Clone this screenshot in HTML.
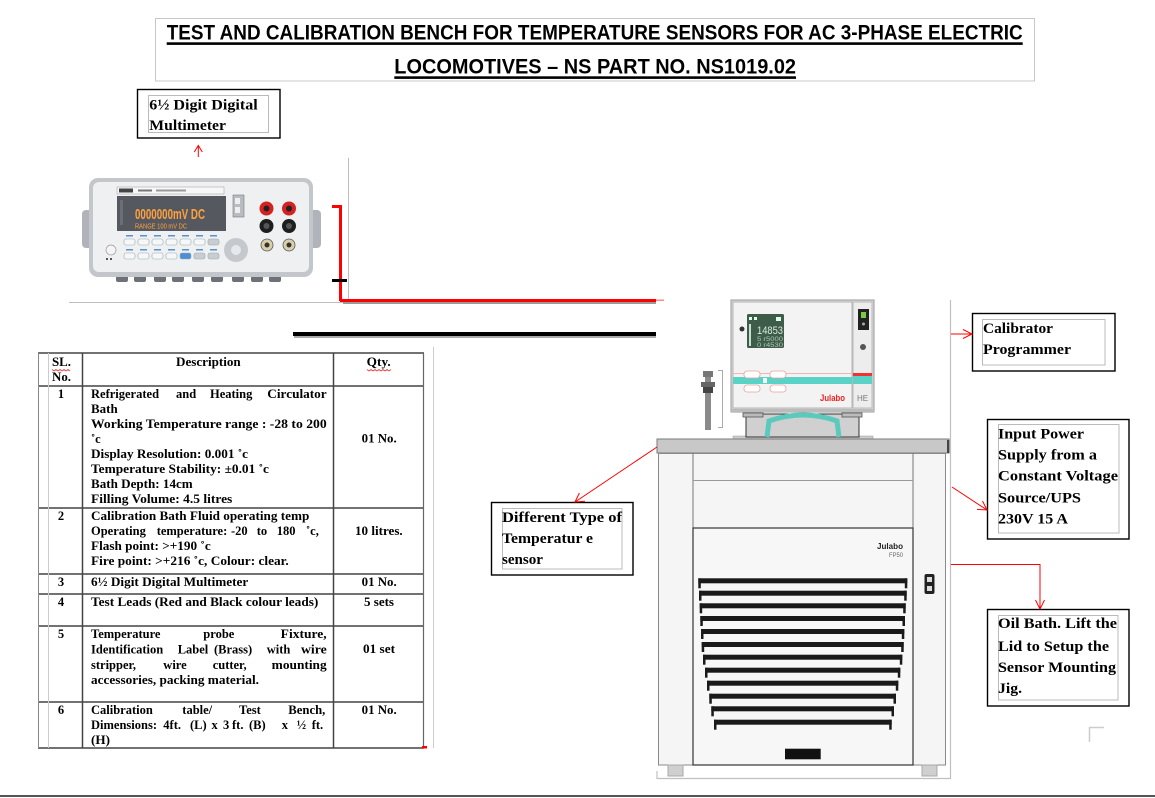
<!DOCTYPE html>
<html><head><meta charset="utf-8">
<style>
html,body{margin:0;padding:0;background:#fff;}
body{width:1155px;height:798px;overflow:hidden;position:relative;}
svg{position:absolute;left:0;top:0;}
.t{font-family:"Liberation Serif","Times New Roman",serif;font-weight:bold;font-size:12.5px;fill:#000;}
.lb{font-family:"Liberation Serif","Times New Roman",serif;font-weight:bold;font-size:15px;fill:#000;}
.ti{font-family:"Liberation Sans Narrow","Liberation Sans",sans-serif;font-weight:bold;font-size:21px;fill:#000;}
.ss{font-family:"Liberation Sans",sans-serif;}
</style></head><body>
<svg width="1155" height="798" viewBox="0 0 1155 798" xmlns="http://www.w3.org/2000/svg">

<!-- Title -->
<rect x="155.5" y="18.5" width="879" height="62.5" fill="#fff" stroke="#c8c8c8"/>
<text class="ti" x="166.7" y="39.3" textLength="856" lengthAdjust="spacingAndGlyphs">TEST AND CALIBRATION BENCH FOR TEMPERATURE SENSORS FOR AC 3-PHASE ELECTRIC</text>
<rect x="166.7" y="42.3" width="856" height="2.6" fill="#000"/>
<text class="ti" x="394.3" y="73.3" textLength="401.7" lengthAdjust="spacingAndGlyphs">LOCOMOTIVES – NS PART NO. NS1019.02</text>
<rect x="394.3" y="76.3" width="401.7" height="2.6" fill="#000"/>

<!-- Multimeter label -->
<rect x="137.5" y="89.5" width="142.5" height="48.5" fill="#fff" stroke="#000" stroke-width="1.4"/>
<rect x="148.5" y="95.5" width="120" height="37" fill="none" stroke="#bbb"/>
<text class="lb" x="149.3" y="109.3" textLength="108.4" lengthAdjust="spacingAndGlyphs">6½ Digit Digital</text>
<text class="lb" x="149.3" y="130" textLength="76.7" lengthAdjust="spacingAndGlyphs">Multimeter</text>
<path d="M198.3 157 V145.5 M194.3 152 L198.3 145.5 L202.3 152" stroke="#f00" fill="none" stroke-width="1"/>

<!-- gray frame around multimeter -->
<path d="M69 302.5 H348.5 V158" stroke="#bdbdbd" fill="none"/>

<!-- Multimeter drawing -->
<g>
<rect x="82" y="210" width="12" height="38" rx="4" fill="#b0b4ba"/>
<rect x="308" y="210" width="13" height="38" rx="4" fill="#b0b4ba"/>
<g fill="#6e7278">
<rect x="116" y="275" width="12" height="7" rx="2"/>
<rect x="134" y="275" width="12" height="7" rx="2"/>
<rect x="154" y="275" width="12" height="7" rx="2"/>
<rect x="172" y="275" width="12" height="7" rx="2"/>
<rect x="192" y="275" width="12" height="7" rx="2"/>
<rect x="211" y="275" width="12" height="7" rx="2"/>
<rect x="232" y="275" width="12" height="7" rx="2"/>
<rect x="251" y="275" width="12" height="7" rx="2"/>
<rect x="269" y="275" width="12" height="7" rx="2"/>
</g>
<rect x="89" y="178" width="224" height="99" rx="9" fill="#c3c7cc"/>
<rect x="93" y="182" width="216" height="90" rx="6" fill="#eef0f2"/>
<rect x="117" y="187" width="107" height="7" fill="#f7f7f7" stroke="#9a9a9a" stroke-width="0.5"/>
<rect x="119" y="188.5" width="14" height="4" fill="#444"/>
<rect x="138" y="189.5" width="14" height="2" fill="#777"/>
<rect x="156" y="189.5" width="30" height="2" fill="#999"/>
<rect x="117" y="196" width="109" height="35" fill="#55595f"/>
<text class="ss" x="135" y="219" font-size="15" font-weight="bold" fill="#ffa040" textLength="70" lengthAdjust="spacingAndGlyphs">0000000mV DC</text>
<text class="ss" x="135" y="228.5" font-size="7" fill="#ffa040" textLength="52" lengthAdjust="spacingAndGlyphs">RANGE 100 mV DC</text>
<rect x="120" y="200" width="3" height="25" fill="#6a6f75"/>
<g fill="#f6f7f8" stroke="#9aa" stroke-width="0.6">
<rect x="124" y="239" width="11" height="6" rx="2"/>
<rect x="138" y="239" width="11" height="6" rx="2"/>
<rect x="152" y="239" width="11" height="6" rx="2"/>
<rect x="166" y="239" width="11" height="6" rx="2"/>
<rect x="180" y="239" width="11" height="6" rx="2"/>
<rect x="194" y="239" width="11" height="6" rx="2"/>
<rect x="208" y="239" width="11" height="6" rx="2" fill="#c9ccd0"/>
<rect x="124" y="253" width="11" height="6" rx="2"/>
<rect x="138" y="253" width="11" height="6" rx="2"/>
<rect x="152" y="253" width="11" height="6" rx="2"/>
<rect x="166" y="253" width="11" height="6" rx="2"/>
<rect x="180" y="253" width="11" height="6" rx="2" fill="#4a8fd8"/>
<rect x="194" y="253" width="11" height="6" rx="2" fill="#c9ccd0"/>
<rect x="208" y="253" width="11" height="6" rx="2" fill="#c9ccd0"/>
</g>
<g fill="#5a8fd0">
<rect x="126" y="235" width="7" height="1.5"/><rect x="140" y="235" width="7" height="1.5"/><rect x="154" y="235" width="7" height="1.5"/><rect x="168" y="235" width="7" height="1.5"/><rect x="182" y="235" width="7" height="1.5"/><rect x="196" y="235" width="7" height="1.5"/><rect x="210" y="235" width="7" height="1.5"/>
<rect x="126" y="249" width="7" height="1.5"/><rect x="140" y="249" width="7" height="1.5"/><rect x="154" y="249" width="7" height="1.5"/><rect x="168" y="249" width="7" height="1.5"/><rect x="182" y="249" width="7" height="1.5"/><rect x="196" y="249" width="7" height="1.5"/><rect x="210" y="249" width="7" height="1.5"/>
</g>
<circle cx="111" cy="250" r="5" fill="#f4f4f4" stroke="#999" stroke-width="0.7"/>
<rect x="106" y="258" width="2" height="2" fill="#555"/><rect x="110" y="258" width="2" height="2" fill="#555"/>
<circle cx="236" cy="250" r="12" fill="#c5c9ce"/>
<circle cx="236" cy="250" r="5" fill="#e6e8ea"/>
<rect x="233" y="195" width="11" height="22" fill="#b8bcc2" stroke="#777" stroke-width="0.6"/>
<rect x="235" y="198" width="5" height="6" fill="#eee"/><rect x="235" y="207" width="5" height="6" fill="#eee"/>
<g>
<circle cx="266.5" cy="208.5" r="7" fill="#d42222"/><circle cx="266.5" cy="208.5" r="3" fill="#222"/>
<circle cx="289" cy="208.5" r="7" fill="#d42222"/><circle cx="289" cy="208.5" r="3" fill="#222"/>
<circle cx="266.5" cy="226" r="7" fill="#1e1e1e"/><circle cx="266.5" cy="226" r="3" fill="#555"/>
<circle cx="289" cy="226" r="7" fill="#1e1e1e"/><circle cx="289" cy="226" r="3" fill="#555"/>
<circle cx="267" cy="245" r="6" fill="#d9cfa8" stroke="#555" stroke-width="0.8"/><circle cx="267" cy="245" r="2.5" fill="#333"/>
<circle cx="289" cy="245" r="6" fill="#d9cfa8" stroke="#555" stroke-width="0.8"/><circle cx="289" cy="245" r="2.5" fill="#333"/>
</g>
</g>

<!-- red bracket & lines -->
<rect x="332" y="205" width="10" height="3" fill="#f00"/>
<rect x="339" y="205" width="3" height="96" fill="#f00"/>
<rect x="332" y="279" width="15" height="3" fill="#000"/>
<rect x="343" y="302" width="313" height="2" fill="#9a9a9a"/>
<rect x="340" y="299" width="316" height="3" fill="#f00"/>
<rect x="656" y="299.5" width="8" height="1.5" fill="#f88"/>
<rect x="294" y="336" width="362" height="2" fill="#aaa"/>
<rect x="293" y="332" width="363" height="4" fill="#000"/>

<!-- TABLE -->
<g stroke="#444" stroke-width="1.5" fill="none">
<line x1="38" y1="353" x2="424" y2="353"/>
<line x1="38" y1="386" x2="424" y2="386"/>
<line x1="38" y1="508" x2="424" y2="508"/>
<line x1="38" y1="574" x2="424" y2="574"/>
<line x1="38" y1="594" x2="424" y2="594"/>
<line x1="38" y1="626" x2="424" y2="626"/>
<line x1="38" y1="702" x2="424" y2="702"/>
<line x1="38" y1="748" x2="424" y2="748"/>
<line x1="82.5" y1="353" x2="82.5" y2="748"/>
<line x1="333.5" y1="353" x2="333.5" y2="748"/>
</g>
<line x1="38.5" y1="353" x2="38.5" y2="748" stroke="#888" stroke-width="1"/>
<line x1="48.5" y1="353" x2="48.5" y2="748" stroke="#ccc" stroke-width="1"/>
<line x1="423.5" y1="353" x2="423.5" y2="748" stroke="#666" stroke-width="1.2"/>
<line x1="433.5" y1="347" x2="433.5" y2="748" stroke="#ccc" stroke-width="1"/>
<rect x="422" y="746" width="5" height="2.5" fill="#f00"/>

<!-- header -->
<text class="t" x="52" y="366" textLength="19" lengthAdjust="spacingAndGlyphs">SL.</text>
<text class="t" x="52" y="381" textLength="19" lengthAdjust="spacingAndGlyphs">No.</text>
<text class="t" x="176" y="366" textLength="64.7" lengthAdjust="spacingAndGlyphs">Description</text>
<text class="t" x="366.7" y="366" textLength="24" lengthAdjust="spacingAndGlyphs">Qty.</text>
<path d="M52 369.5 l2 1.5 l2 -1.5 l2 1.5 l2 -1.5 l2 1.5 l2 -1.5 l2 1.5 l2 -1.5 l2 1.5" stroke="#e33" fill="none" stroke-width="0.8"/>
<path d="M367 369.5 l2 1.5 l2 -1.5 l2 1.5 l2 -1.5 l2 1.5 l2 -1.5 l2 1.5 l2 -1.5 l2 1.5 l2 -1.5 l2 1.5 l2 -1.5" stroke="#e33" fill="none" stroke-width="0.8"/>

<!-- numbers -->
<text class="t" x="61" y="398" text-anchor="middle">1</text>
<text class="t" x="61" y="520" text-anchor="middle">2</text>
<text class="t" x="61" y="586" text-anchor="middle">3</text>
<text class="t" x="61" y="606" text-anchor="middle">4</text>
<text class="t" x="61" y="638" text-anchor="middle">5</text>
<text class="t" x="61" y="714" text-anchor="middle">6</text>

<!-- row 1 -->
<text class="t" x="91" y="398">Refrigerated</text>
<text class="t" x="176" y="398">and</text>
<text class="t" x="210" y="398">Heating</text>
<text class="t" x="267.3" y="398" textLength="59.4" lengthAdjust="spacingAndGlyphs">Circulator</text>
<text class="t" x="91" y="413" textLength="26.7" lengthAdjust="spacingAndGlyphs">Bath</text>
<text class="t" x="91" y="428" textLength="235.7" lengthAdjust="spacingAndGlyphs">Working Temperature range : -28 to 200</text>
<text class="t" x="91" y="443">˚c</text>
<text class="t" x="91" y="458" textLength="157" lengthAdjust="spacingAndGlyphs">Display Resolution: 0.001 ˚c</text>
<text class="t" x="91" y="473" textLength="178" lengthAdjust="spacingAndGlyphs">Temperature Stability: ±0.01 ˚c</text>
<text class="t" x="91" y="488" textLength="101.7" lengthAdjust="spacingAndGlyphs">Bath Depth: 14cm</text>
<text class="t" x="91" y="503" textLength="141.3" lengthAdjust="spacingAndGlyphs">Filling Volume: 4.5 litres</text>

<!-- row 2 -->
<text class="t" x="91" y="520" textLength="218.3" lengthAdjust="spacingAndGlyphs">Calibration Bath Fluid operating temp</text>
<text class="t" x="91" y="535">Operating</text>
<text class="t" x="156.7" y="535">temperature:</text>
<text class="t" x="231" y="535">-20</text>
<text class="t" x="256.7" y="535">to</text>
<text class="t" x="276.7" y="535">180</text>
<text class="t" x="306" y="535">˚c,</text>
<text class="t" x="91" y="550" textLength="119.7" lengthAdjust="spacingAndGlyphs">Flash point: &gt;+190 ˚c</text>
<text class="t" x="91" y="565" textLength="197.7" lengthAdjust="spacingAndGlyphs">Fire point: &gt;+216 ˚c, Colour: clear.</text>

<!-- row 3,4 -->
<text class="t" x="91" y="586" textLength="157.3" lengthAdjust="spacingAndGlyphs">6½ Digit Digital Multimeter</text>
<text class="t" x="91" y="606" textLength="227.3" lengthAdjust="spacingAndGlyphs">Test Leads (Red and Black colour leads)</text>

<!-- row 5 -->
<text class="t" x="91" y="638">Temperature</text>
<text class="t" x="203.3" y="638">probe</text>
<text class="t" x="280.7" y="638" textLength="46" lengthAdjust="spacingAndGlyphs">Fixture,</text>
<text class="t" x="91" y="653.3">Identification</text>
<text class="t" x="177.7" y="653.3">Label</text>
<text class="t" x="214" y="653.3">(Brass)</text>
<text class="t" x="266.7" y="653.3">with</text>
<text class="t" x="301" y="653.3" textLength="25.7" lengthAdjust="spacingAndGlyphs">wire</text>
<text class="t" x="91" y="669">stripper,</text>
<text class="t" x="163.3" y="669">wire</text>
<text class="t" x="212.7" y="669">cutter,</text>
<text class="t" x="271.7" y="669" textLength="55" lengthAdjust="spacingAndGlyphs">mounting</text>
<text class="t" x="91" y="684" textLength="168" lengthAdjust="spacingAndGlyphs">accessories, packing material.</text>

<!-- row 6 -->
<text class="t" x="91" y="714">Calibration</text>
<text class="t" x="182.3" y="714">table/</text>
<text class="t" x="239" y="714">Test</text>
<text class="t" x="288.3" y="714" textLength="37" lengthAdjust="spacingAndGlyphs">Bench,</text>
<text class="t" x="91" y="729">Dimensions:</text>
<text class="t" x="163.3" y="729">4ft.</text>
<text class="t" x="190" y="729">(L)</text>
<text class="t" x="211.5" y="729">x</text>
<text class="t" x="223" y="729">3</text>
<text class="t" x="232" y="729">ft.</text>
<text class="t" x="249" y="729">(B)</text>
<text class="t" x="281.7" y="729">x</text>
<text class="t" x="296.7" y="729">½</text>
<text class="t" x="311.7" y="729">ft.</text>
<text class="t" x="91" y="744" textLength="19" lengthAdjust="spacingAndGlyphs">(H)</text>

<!-- quantities -->
<text class="t" x="361.7" y="442.7" textLength="35" lengthAdjust="spacingAndGlyphs">01 No.</text>
<text class="t" x="355" y="535" textLength="47.7" lengthAdjust="spacingAndGlyphs">10 litres.</text>
<text class="t" x="361.7" y="586" textLength="35" lengthAdjust="spacingAndGlyphs">01 No.</text>
<text class="t" x="364" y="606" textLength="30" lengthAdjust="spacingAndGlyphs">5 sets</text>
<text class="t" x="363" y="653" textLength="32" lengthAdjust="spacingAndGlyphs">01 set</text>
<text class="t" x="361.7" y="714" textLength="35" lengthAdjust="spacingAndGlyphs">01 No.</text>

<!-- ===== MACHINE ===== -->
<path d="M657 771 V778.5 H950.5 V300" stroke="#c0c0c0" fill="none" stroke-width="1.2"/>

<!-- controller -->
<rect x="731" y="300" width="143" height="112" fill="#d9d9d9" stroke="#9a9a9a"/>
<rect x="733" y="302" width="119" height="106" fill="#f3f3f3" stroke="#b5b5b5"/>
<rect x="853" y="302" width="19" height="106" fill="#ededed" stroke="#bbb"/>
<rect x="747" y="314" width="37" height="34" rx="1.5" fill="#3f5b4a"/>
<text class="ss" x="757" y="334" font-size="11" fill="#d6eee0" textLength="26" lengthAdjust="spacingAndGlyphs">14853</text>
<text class="ss" x="757" y="341" font-size="6" fill="#a9c8b4" textLength="26" lengthAdjust="spacingAndGlyphs">5 r5000</text>
<text class="ss" x="757" y="347" font-size="6" fill="#a9c8b4" textLength="26" lengthAdjust="spacingAndGlyphs">0 r4530</text>
<rect x="749" y="317" width="3" height="3" fill="#dfe"/><rect x="754" y="317" width="3" height="3" fill="#dfe"/><rect x="776" y="317" width="5" height="4" fill="#dfe"/>
<rect x="749" y="324" width="2" height="22" fill="#c8e0cf"/>
<circle cx="742" cy="329" r="2.5" fill="#333"/>
<rect x="733" y="377" width="119" height="7" fill="#58d3c6"/>
<rect x="853" y="373" width="19" height="3" fill="#e33"/>
<rect x="853" y="376" width="19" height="8" fill="#58d3c6"/>
<rect x="733" y="373" width="119" height="1" fill="#f2b5b5"/>
<g fill="#fff" stroke="#e9a0a0" stroke-width="0.8">
<rect x="744" y="371" width="16" height="7" rx="3"/>
<rect x="744" y="385" width="16" height="7" rx="3"/>
<rect x="770" y="371" width="16" height="7" rx="3"/>
<rect x="770" y="385" width="16" height="7" rx="3"/>
</g>
<rect x="763" y="378" width="4" height="5" fill="#fff"/>
<text class="ss" x="820" y="401" font-size="9" font-weight="bold" fill="#e22" textLength="25" lengthAdjust="spacingAndGlyphs">Julabo</text>
<text class="ss" x="857" y="401" font-size="8" fill="#777">HE</text>
<rect x="858" y="309" width="11" height="21" fill="#222"/>
<rect x="861" y="312" width="5" height="6" fill="#7c4"/>
<circle cx="863.5" cy="324" r="1.5" fill="#aaa"/>
<circle cx="863" cy="347" r="3" fill="#555"/>
<rect x="731" y="409" width="143" height="3" fill="#bbb"/>

<!-- stand -->
<rect x="733" y="436" width="140" height="3" fill="#ccc" stroke="#999" stroke-width="0.5"/>
<rect x="746" y="414" width="113" height="23" fill="#d0d0d0" stroke="#333" stroke-width="1"/>
<rect x="743" y="413" width="20" height="4" fill="#bbb" stroke="#555" stroke-width="0.8"/>
<rect x="842" y="413" width="20" height="4" fill="#bbb" stroke="#555" stroke-width="0.8"/>
<path d="M767 437 L769 421 Q803 409 837 421 L839 437" fill="none" stroke="#5cc9bd" stroke-width="5"/>

<!-- probe -->
<rect x="705" y="371" width="6" height="59" fill="#8a8a8a"/>
<rect x="703" y="371" width="10" height="6" fill="#777"/>
<rect x="701" y="382" width="14" height="5" fill="#666"/>
<rect x="703" y="387" width="10" height="6" fill="#444"/>
<path d="M718 370.5 H722.5 V427.5 H718" stroke="#aaa" fill="none"/>

<!-- lid -->
<rect x="657" y="439" width="292" height="14" fill="#c8c8c8" stroke="#7a7a7a"/>
<rect x="947" y="440" width="2.5" height="13" fill="#444"/>

<!-- cabinet -->
<rect x="658.5" y="453.5" width="287" height="311.5" fill="#f5f5f5" stroke="#8a8a8a"/>
<line x1="693" y1="453" x2="693" y2="765" stroke="#777"/>
<line x1="913" y1="453" x2="913" y2="765" stroke="#777"/>
<line x1="693" y1="480.5" x2="913" y2="480.5" stroke="#999"/>
<rect x="693" y="528" width="220" height="237" fill="#f7f7f7" stroke="#333" stroke-width="1.2"/>
<text class="ss" x="877" y="549" font-size="8" font-weight="bold" fill="#222" textLength="26" lengthAdjust="spacingAndGlyphs">Julabo</text>
<text class="ss" x="889" y="557" font-size="6" fill="#666" textLength="14" lengthAdjust="spacingAndGlyphs">FP50</text>
<rect x="924.5" y="574" width="10" height="20" rx="2" fill="#222"/>
<rect x="927" y="577" width="5" height="5" fill="#ddd"/><rect x="927" y="586" width="5" height="5" fill="#ddd"/>
<rect x="785" y="748.7" width="35.7" height="10.6" fill="#111"/>
<rect x="668" y="765" width="15" height="11" fill="#cfcfcf" stroke="#aaa"/>
<rect x="922" y="765" width="15" height="11" fill="#cfcfcf" stroke="#aaa"/>

<!-- louvers -->
<g fill="#1a1a1a">
<rect x="698.3" y="578.3" width="209" height="5"/><rect x="698.3" y="578.3" width="2.5" height="10"/><rect x="904.8" y="578.3" width="2.5" height="10"/>
<rect x="699" y="590.7" width="207.7" height="5"/><rect x="699" y="590.7" width="2.5" height="10"/><rect x="904.2" y="590.7" width="2.5" height="10"/>
<rect x="699.7" y="603.3" width="206" height="5"/><rect x="699.7" y="603.3" width="2.5" height="10"/><rect x="903.2" y="603.3" width="2.5" height="10"/>
<rect x="700.3" y="616" width="204.7" height="5"/><rect x="700.3" y="616" width="2.5" height="10"/><rect x="902.5" y="616" width="2.5" height="10"/>
<rect x="701" y="629" width="203.3" height="5"/><rect x="701" y="629" width="2.5" height="10"/><rect x="901.8" y="629" width="2.5" height="10"/>
<rect x="701.7" y="642" width="202" height="5"/><rect x="701.7" y="642" width="2.5" height="10"/><rect x="901.2" y="642" width="2.5" height="10"/>
<rect x="703" y="654.7" width="199.3" height="5"/><rect x="703" y="654.7" width="2.5" height="10"/><rect x="899.8" y="654.7" width="2.5" height="10"/>
<rect x="705" y="667.7" width="195.3" height="5"/><rect x="705" y="667.7" width="2.5" height="10"/><rect x="897.8" y="667.7" width="2.5" height="10"/>
<rect x="707" y="680.7" width="191.3" height="5"/><rect x="707" y="680.7" width="2.5" height="10"/><rect x="895.8" y="680.7" width="2.5" height="10"/>
<rect x="709.3" y="693.7" width="186.7" height="5"/><rect x="709.3" y="693.7" width="2.5" height="10"/><rect x="893.5" y="693.7" width="2.5" height="10"/>
<rect x="711.3" y="706.3" width="182.7" height="5"/><rect x="711.3" y="706.3" width="2.5" height="10"/><rect x="891.5" y="706.3" width="2.5" height="10"/>
<rect x="714" y="719.7" width="177.7" height="5"/><rect x="714" y="719.7" width="2.5" height="10"/><rect x="889.2" y="719.7" width="2.5" height="10"/>
</g>

<!-- ===== LABEL BOXES ===== -->
<rect x="491.5" y="502.5" width="141.5" height="72.5" fill="#fff" stroke="#000" stroke-width="1.4"/>
<rect x="502.5" y="508.5" width="119.5" height="60.5" fill="none" stroke="#bbb"/>
<text class="lb" x="502" y="522" textLength="120" lengthAdjust="spacingAndGlyphs">Different Type of</text>
<text class="lb" x="502" y="543" textLength="91" lengthAdjust="spacingAndGlyphs">Temperatur e</text>
<text class="lb" x="502" y="564" textLength="41" lengthAdjust="spacingAndGlyphs">sensor</text>
<path d="M657 447 L575 502 M585 501.3 L575 502 L579.4 493" stroke="#f00" fill="none" stroke-width="1"/>

<rect x="972.5" y="313.5" width="142.5" height="57.5" fill="#fff" stroke="#000" stroke-width="1.4"/>
<rect x="982.5" y="319.5" width="122.5" height="45.5" fill="none" stroke="#bbb"/>
<text class="lb" x="983" y="333" textLength="70" lengthAdjust="spacingAndGlyphs">Calibrator</text>
<text class="lb" x="983" y="354" textLength="88" lengthAdjust="spacingAndGlyphs">Programmer</text>
<path d="M951 334 H972 M963 329.5 L972 334 L963 338.5" stroke="#f00" fill="none" stroke-width="1"/>

<rect x="987.5" y="419.5" width="141.5" height="119.5" fill="#fff" stroke="#000" stroke-width="1.4"/>
<rect x="998.5" y="424.5" width="120.5" height="108.5" fill="none" stroke="#bbb"/>
<text class="lb" x="998" y="438.7" textLength="86" lengthAdjust="spacingAndGlyphs">Input Power</text>
<text class="lb" x="998" y="459.3" textLength="99" lengthAdjust="spacingAndGlyphs">Supply from a</text>
<text class="lb" x="998" y="480.7" textLength="120" lengthAdjust="spacingAndGlyphs">Constant Voltage</text>
<text class="lb" x="998" y="502.7" textLength="83" lengthAdjust="spacingAndGlyphs">Source/UPS</text>
<text class="lb" x="998" y="523.3" textLength="70" lengthAdjust="spacingAndGlyphs">230V 15 A</text>
<path d="M952 487 L987 510 M982.5 501 L987 510 L977 509.4" stroke="#f00" fill="none" stroke-width="1"/>

<rect x="987.5" y="609.5" width="141.5" height="96.5" fill="#fff" stroke="#000" stroke-width="1.4"/>
<rect x="998.5" y="615.5" width="119.5" height="84.5" fill="none" stroke="#bbb"/>
<text class="lb" x="998" y="628" textLength="119" lengthAdjust="spacingAndGlyphs">Oil Bath. Lift the</text>
<text class="lb" x="998" y="651" textLength="111" lengthAdjust="spacingAndGlyphs">Lid to Setup the</text>
<text class="lb" x="998" y="672" textLength="118" lengthAdjust="spacingAndGlyphs">Sensor Mounting</text>
<text class="lb" x="998" y="693" textLength="24" lengthAdjust="spacingAndGlyphs">Jig.</text>
<path d="M951 564.5 H1040 V609 M1035.5 600 L1040 609 L1044.5 600" stroke="#f00" fill="none" stroke-width="1"/>

<path d="M1089.5 742 V727.5 H1104" stroke="#ccc" fill="none" stroke-width="1.5"/>

<rect x="0" y="795" width="1155" height="2" fill="#555"/>
</svg>
</body></html>
